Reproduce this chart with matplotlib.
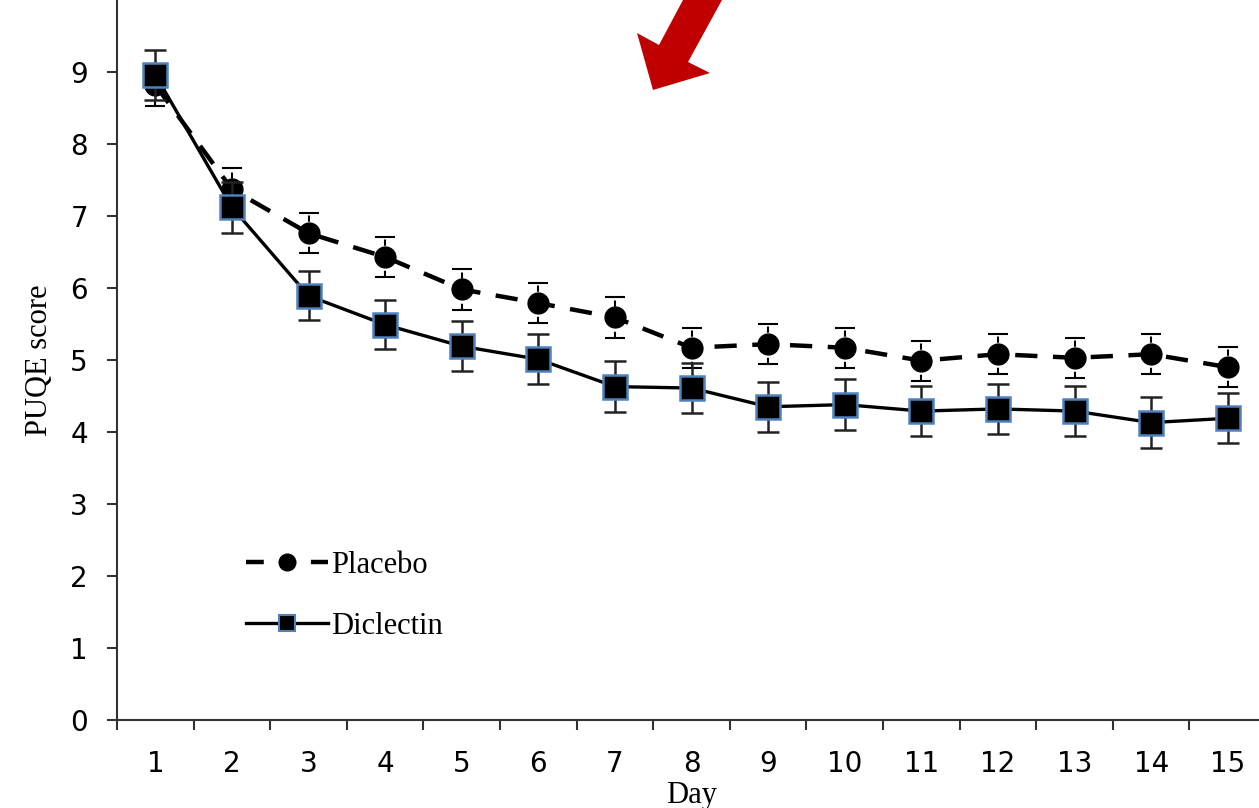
import numpy as np
import matplotlib
matplotlib.use("Agg")
import matplotlib.pyplot as plt
from matplotlib.patches import Polygon
from matplotlib.lines import Line2D

days = np.arange(1, 16)
placebo = [8.82, 7.37, 6.76, 6.43, 5.98, 5.79, 5.59, 5.17, 5.22, 5.17, 4.99, 5.08, 5.03, 5.08, 4.90]
placebo_err = [0.29, 0.29, 0.28, 0.28, 0.28, 0.28, 0.28, 0.28, 0.28, 0.28, 0.28, 0.28, 0.28, 0.28, 0.28]
diclectin = [8.96, 7.12, 5.89, 5.49, 5.19, 5.01, 4.63, 4.61, 4.35, 4.38, 4.29, 4.32, 4.29, 4.13, 4.19]
diclectin_err = [0.35, 0.35, 0.34, 0.34, 0.35, 0.35, 0.35, 0.35, 0.35, 0.35, 0.35, 0.35, 0.35, 0.35, 0.35]

fig = plt.figure(figsize=(12.59, 8.08), dpi=100)
ax = fig.add_axes([0.093, 0.109, 0.9126, 0.891])

serif = "Liberation Serif"
dash = (0, (5, 3.5))

# placebo: dashed line, circles, dashed error bars
pl = ax.errorbar(days, placebo, yerr=placebo_err, color="black", lw=3.2, ls=dash,
                 marker="o", ms=15, capsize=7, capthick=1.5, elinewidth=1.5,
                 zorder=3)
for c in pl[2]:
    c.set_linestyle((0, (3, 2)))

# diclectin: solid line, squares with blue edge
ax.errorbar(days, diclectin, yerr=diclectin_err, color="black", lw=2.4, ls="-",
            marker="s", ms=17, mfc="black", mec="#4f81bd", mew=1.8,
            capsize=8, capthick=1.8, elinewidth=1.8, ecolor="#222222",
            zorder=4)

ax.set_xlim(0.5, 15.5)
ax.set_ylim(0, 10)
ax.set_yticks(range(0, 10))
ax.set_xticks(days)
ax.set_xticks(np.arange(0.5, 16, 1), minor=True)
ax.tick_params(axis="x", which="major", length=0, pad=22, labelsize=20)
ax.tick_params(axis="x", which="minor", length=7, width=1.5, direction="out", color="#333333")
ax.tick_params(axis="y", length=7, width=1.5, direction="out", pad=14, labelsize=20, color="#333333")

for s in ["top", "right"]:
    ax.spines[s].set_visible(False)
for s in ["left", "bottom"]:
    ax.spines[s].set_linewidth(1.5)
    ax.spines[s].set_color("#333333")

ax.set_xlabel("Day", fontfamily=serif, fontsize=22, labelpad=2)
ax.set_ylabel("PUQE score", fontfamily=serif, fontsize=22, labelpad=12)

handles = [
    Line2D([], [], color="black", lw=3.2, ls=(0, (4, 10.6)), marker="o", ms=12),
    Line2D([], [], color="black", lw=2.4, ls="-", marker="s", ms=12,
           mfc="black", mec="#4f81bd", mew=1.5),
]
ax.legend(handles, ["Placebo", "Diclectin"], loc="upper left", bbox_to_anchor=(0.088, 0.273),
          frameon=False, prop={"family": serif, "size": 22},
          labelspacing=1.05, handlelength=2.7, handletextpad=0.1)

# red arrow pointing down-left, in figure pixels
W, H = 1259, 808
arrow_px = [(683, 0), (659, 45), (637, 33), (653, 90), (710, 73), (688, 62), (722, 0)]
arrow = Polygon([(x / W, 1 - y / H) for x, y in arrow_px], closed=True,
                transform=fig.transFigure, facecolor="#c00000", edgecolor="none")
fig.patches.append(arrow)

fig.savefig("out.png", dpi=100)
